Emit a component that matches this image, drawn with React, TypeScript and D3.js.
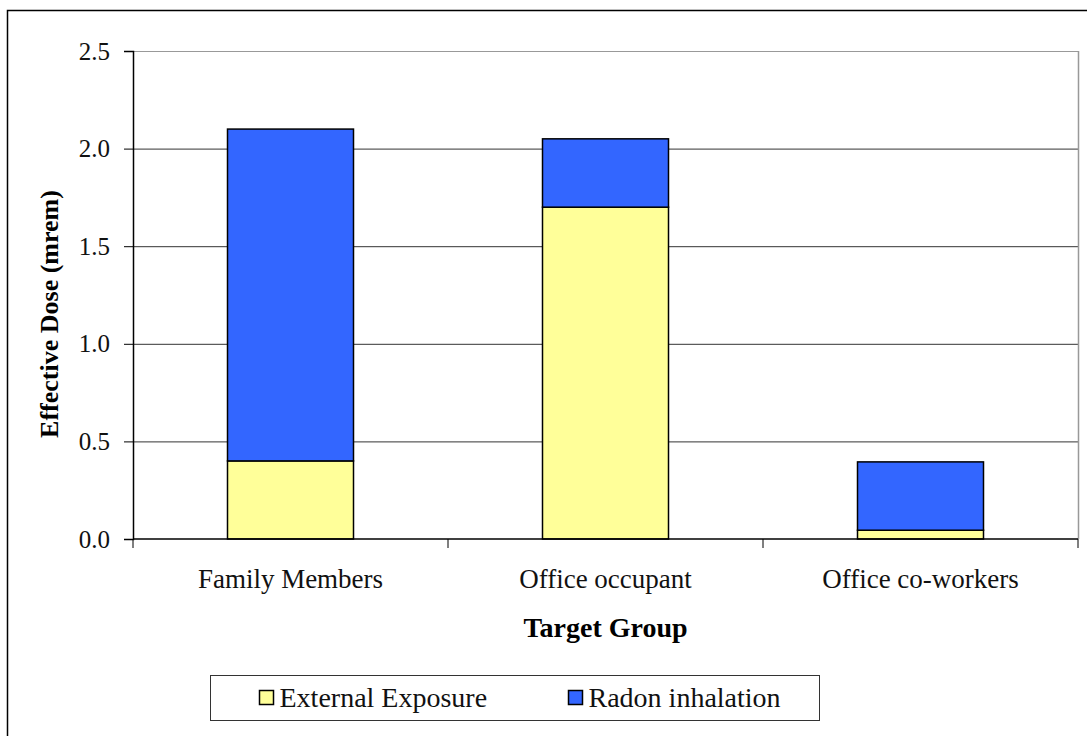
import React, {useEffect, useRef} from 'react';
import * as d3 from "d3";

const categories = ["Family Members", "Office occupant", "Office co-workers"];
const externalExposure = [0.4, 1.7, 0.045];
const radonInhalation = [1.7, 0.35, 0.35];
const seriesNames = ["External Exposure", "Radon inhalation"];
const seriesColors = ["#FFFF99", "#3366FF"];
const yTicks = [0, 0.5, 1.0, 1.5, 2.0, 2.5];

const W = 1087, H = 736;
const FONT = "Liberation Serif, serif";

export default function App() {
    const ref = useRef<SVGSVGElement>(null);

    useEffect(() => {
        const svg = d3.select(ref.current);
        svg.selectAll("*").remove();

        const margin = {top: 51, right: 9, bottom: 197, left: 133};
        const width = W - margin.left - margin.right,
            height = H - margin.top - margin.bottom;

        // outer chart border
        svg.append("rect")
            .attr("x", 7.5).attr("y", 10.5)
            .attr("width", W + 20).attr("height", H + 20)
            .attr("fill", "white")
            .attr("stroke", "black")
            .attr("stroke-width", 1.5);

        const g = svg.append("g")
            .attr("transform", "translate(" + margin.left + "," + margin.top + ")");

        const x = d3.scaleBand().domain(categories).range([0, width]).paddingInner(0.6).paddingOuter(0.3);
        const xEdge = d3.scaleLinear().domain([0, categories.length]).range([0, width]);
        const y = d3.scaleLinear().domain([0, 2.5]).range([height, 0]);

        // gridlines
        g.selectAll(".grid")
            .data(yTicks.filter(t => t > 0))
            .enter().append("line")
            .attr("x1", 0).attr("x2", width)
            .attr("y1", d => y(d) + 0.5).attr("y2", d => y(d) + 0.5)
            .attr("stroke", d => d === 2.5 ? "#999" : "#333")
            .attr("stroke-width", 1);

        // right border of plot area
        g.append("line")
            .attr("x1", width + 0.5).attr("x2", width + 0.5)
            .attr("y1", 0).attr("y2", height)
            .attr("stroke", "#999").attr("stroke-width", 1.5);

        // stacked bars
        const stackData = categories.map((c, i) => ({cat: c, s0: externalExposure[i], s1: radonInhalation[i]}));
        const stack = d3.stack<any>().keys(["s0", "s1"])(stackData);
        stack.forEach((layer, li) => {
            g.selectAll(".bar" + li)
                .data(layer)
                .enter().append("rect")
                .attr("x", (d: any) => x(d.data.cat)!)
                .attr("width", x.bandwidth())
                .attr("y", (d: any) => y(d[1]))
                .attr("height", (d: any) => y(d[0]) - y(d[1]))
                .attr("fill", seriesColors[li])
                .attr("stroke", "black")
                .attr("stroke-width", 1.5);
        });

        // y axis
        const yAxis = g.append("g")
            .call(d3.axisLeft(y).tickValues(yTicks).tickSize(9).tickPadding(14).tickFormat(d3.format(".1f")));
        yAxis.attr("font-family", FONT).attr("font-size", 25);
        yAxis.select(".domain").attr("stroke", "black").attr("stroke-width", 1.5);
        yAxis.selectAll(".tick line").attr("stroke", "black");
        yAxis.selectAll("text").attr("fill", "#111");

        // x axis
        const xAxisG = g.append("g").attr("transform", "translate(0," + height + ")");
        xAxisG.append("line")
            .attr("x1", 0).attr("x2", width).attr("y1", 0).attr("y2", 0)
            .attr("stroke", "black").attr("stroke-width", 1.5);
        xAxisG.selectAll(".xtick")
            .data(d3.range(categories.length + 1))
            .enter().append("line")
            .attr("x1", d => xEdge(d)).attr("x2", d => xEdge(d))
            .attr("y1", 0).attr("y2", 9)
            .attr("stroke", "black");
        xAxisG.selectAll(".xlabel")
            .data(categories)
            .enter().append("text")
            .attr("x", d => x(d)! + x.bandwidth() / 2)
            .attr("y", 49)
            .attr("text-anchor", "middle")
            .attr("font-family", FONT).attr("font-size", 27).attr("fill", "#111")
            .text(d => d);

        // axis titles
        g.append("text")
            .attr("x", width / 2).attr("y", height + 98)
            .attr("text-anchor", "middle")
            .attr("font-family", FONT).attr("font-size", 28).attr("font-weight", "bold")
            .text("Target Group");
        g.append("text")
            .attr("transform", "translate(-75," + 263 + ") rotate(-90)")
            .attr("text-anchor", "middle")
            .attr("font-family", FONT).attr("font-size", 26).attr("font-weight", "bold")
            .text("Effective Dose (mrem)");

        // legend
        const legend = svg.append("g").attr("transform", "translate(210.5,675.5)");
        legend.append("rect")
            .attr("width", 609).attr("height", 45)
            .attr("fill", "white").attr("stroke", "#333").attr("stroke-width", 1);
        const legendX = [49, 358];
        seriesNames.forEach((name, i) => {
            legend.append("rect")
                .attr("x", legendX[i]).attr("y", 15)
                .attr("width", 14).attr("height", 14)
                .attr("fill", seriesColors[i]).attr("stroke", "black").attr("stroke-width", 1.5);
            legend.append("text")
                .attr("x", legendX[i] + 20).attr("y", 31)
                .attr("font-family", FONT).attr("font-size", 28).attr("fill", "#111")
                .text(name);
        });
    }, []);

    return (
        <svg ref={ref} width={W} height={H} style={{position: "absolute", left: 0, top: 0}}></svg>
    );
}
